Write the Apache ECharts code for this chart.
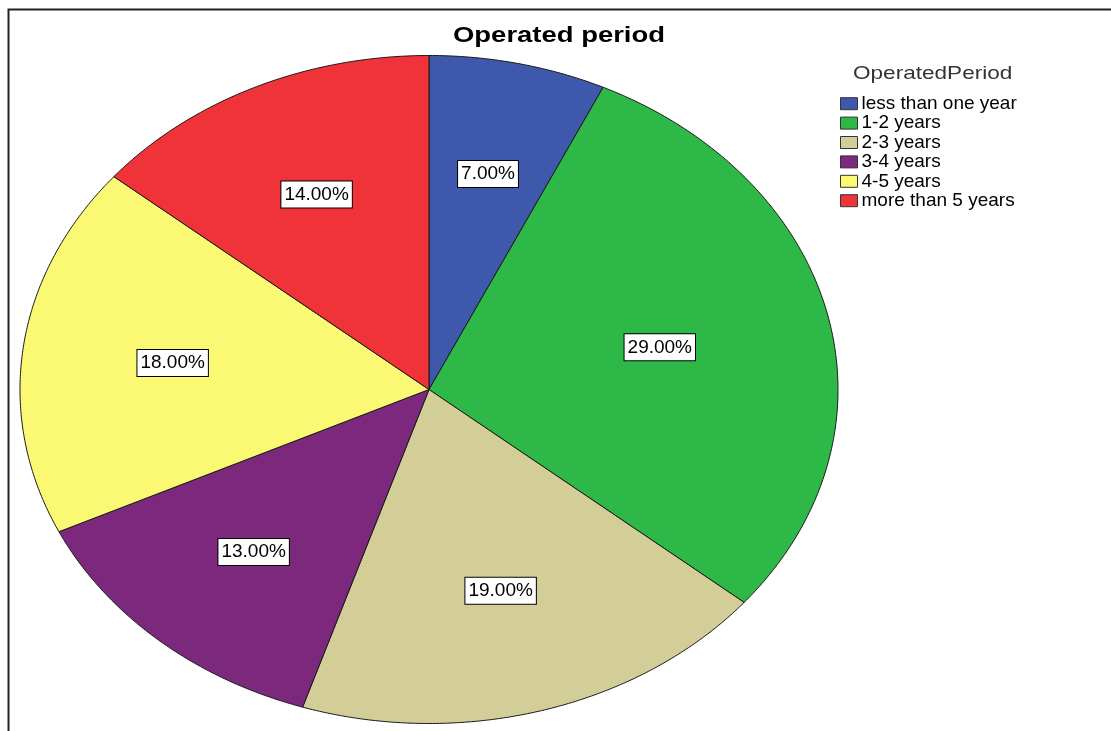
<!DOCTYPE html>
<html>
<head>
<meta charset="utf-8">
<script src="https://cdn.jsdelivr.net/npm/echarts@6/dist/echarts.min.js"></script>
<style>
  html, body { margin: 0; padding: 0; background: #fff; }
  #chart { width: 1111px; height: 731px; }
</style>
</head>
<body>
<div id="chart"></div>
<script>
// Operated period shares (percent of respondents)
const categories = ['less than one year', '1-2 years', '2-3 years', '3-4 years', '4-5 years', 'more than 5 years'];
const shares = [7, 29, 19, 13, 18, 14];
const sliceColors = ['#3E58AC', '#2EB848', '#D3CE97', '#7C287D', '#FBF873', '#EF3338'];
const chartTitle = 'Operated period';
const legendTitle = 'OperatedPeriod';

const FONT = '"Liberation Sans", Arial, sans-serif';
// elliptical pie frame
const PIE = { cx: 429, cy: 389.5, rx: 409, ry: 334 };
const WIDE = 1.22; // horizontal stretch of the heading texts
const total = shares.reduce((a, b) => a + b, 0);

function renderSlice(idx) {
  return function (params, api) {
    const value = api.value(0);
    let before = 0;
    for (let i = 0; i < idx; i++) before += shares[i];
    const a0 = before / total * Math.PI * 2;
    const a1 = (before + value) / total * Math.PI * 2;
    const at = (a, f) => [PIE.cx + f * PIE.rx * Math.sin(a), PIE.cy - f * PIE.ry * Math.cos(a)];
    const pts = [[PIE.cx, PIE.cy]];
    const steps = Math.max(8, Math.ceil((a1 - a0) / (Math.PI / 360)));
    for (let k = 0; k <= steps; k++) pts.push(at(a0 + (a1 - a0) * k / steps, 1));
    // label sits on the sector centroid
    const theta = a1 - a0;
    const f = 4 * Math.sin(theta / 2) / (3 * theta);
    const lp = at((a0 + a1) / 2, f);
    return {
      type: 'group',
      children: [
        {
          type: 'polygon',
          shape: { points: pts },
          style: { fill: api.visual('color'), stroke: '#1a1a1a', lineWidth: 1 }
        },
        {
          type: 'text',
          z2: 10,
          x: lp[0],
          y: lp[1],
          style: {
            text: value.toFixed(2) + '%',
            align: 'center',
            verticalAlign: 'middle',
            fontSize: 19,
            fontFamily: FONT,
            fill: '#000',
            backgroundColor: '#fff',
            borderColor: '#000',
            borderWidth: 1,
            padding: [4, 3, 3, 3]
          }
        }
      ]
    };
  };
}

const chart = echarts.init(document.getElementById('chart'), null, { renderer: 'canvas' });
chart.setOption({
  animation: false,
  backgroundColor: '#fff',
  legend: {
    data: categories,
    orient: 'vertical',
    left: 840, top: 94, padding: 0,
    icon: 'rect',
    itemWidth: 17, itemHeight: 12, itemGap: 0,
    selectedMode: false,
    itemStyle: { borderColor: '#333', borderWidth: 1 },
    textStyle: { fontSize: 19, lineHeight: 19.4, color: '#000', fontFamily: FONT, padding: [0, 0, 0, -1] }
  },
  graphic: [
    {
      type: 'polyline', silent: true,
      shape: { points: [[8.5, 731], [8.5, 9.5], [1111, 9.5]] },
      style: { stroke: '#222', lineWidth: 2, fill: null }
    },
    {
      type: 'text', silent: true,
      x: 453, y: 35.5, scaleX: WIDE,
      style: {
        text: chartTitle, fontSize: 22.5, fontWeight: 'bold', fontFamily: FONT,
        fill: '#000', align: 'left', verticalAlign: 'middle'
      }
    },
    {
      type: 'text', silent: true,
      x: 853, y: 73.5, scaleX: WIDE,
      style: {
        text: legendTitle, fontSize: 18.5, fontFamily: FONT,
        fill: '#333', align: 'left', verticalAlign: 'middle'
      }
    }
  ],
  series: categories.map((name, i) => ({
    type: 'custom',
    name: name,
    coordinateSystem: 'none',
    silent: true,
    data: [shares[i]],
    itemStyle: { color: sliceColors[i] },
    renderItem: renderSlice(i)
  }))
});
</script>
</body>
</html>
